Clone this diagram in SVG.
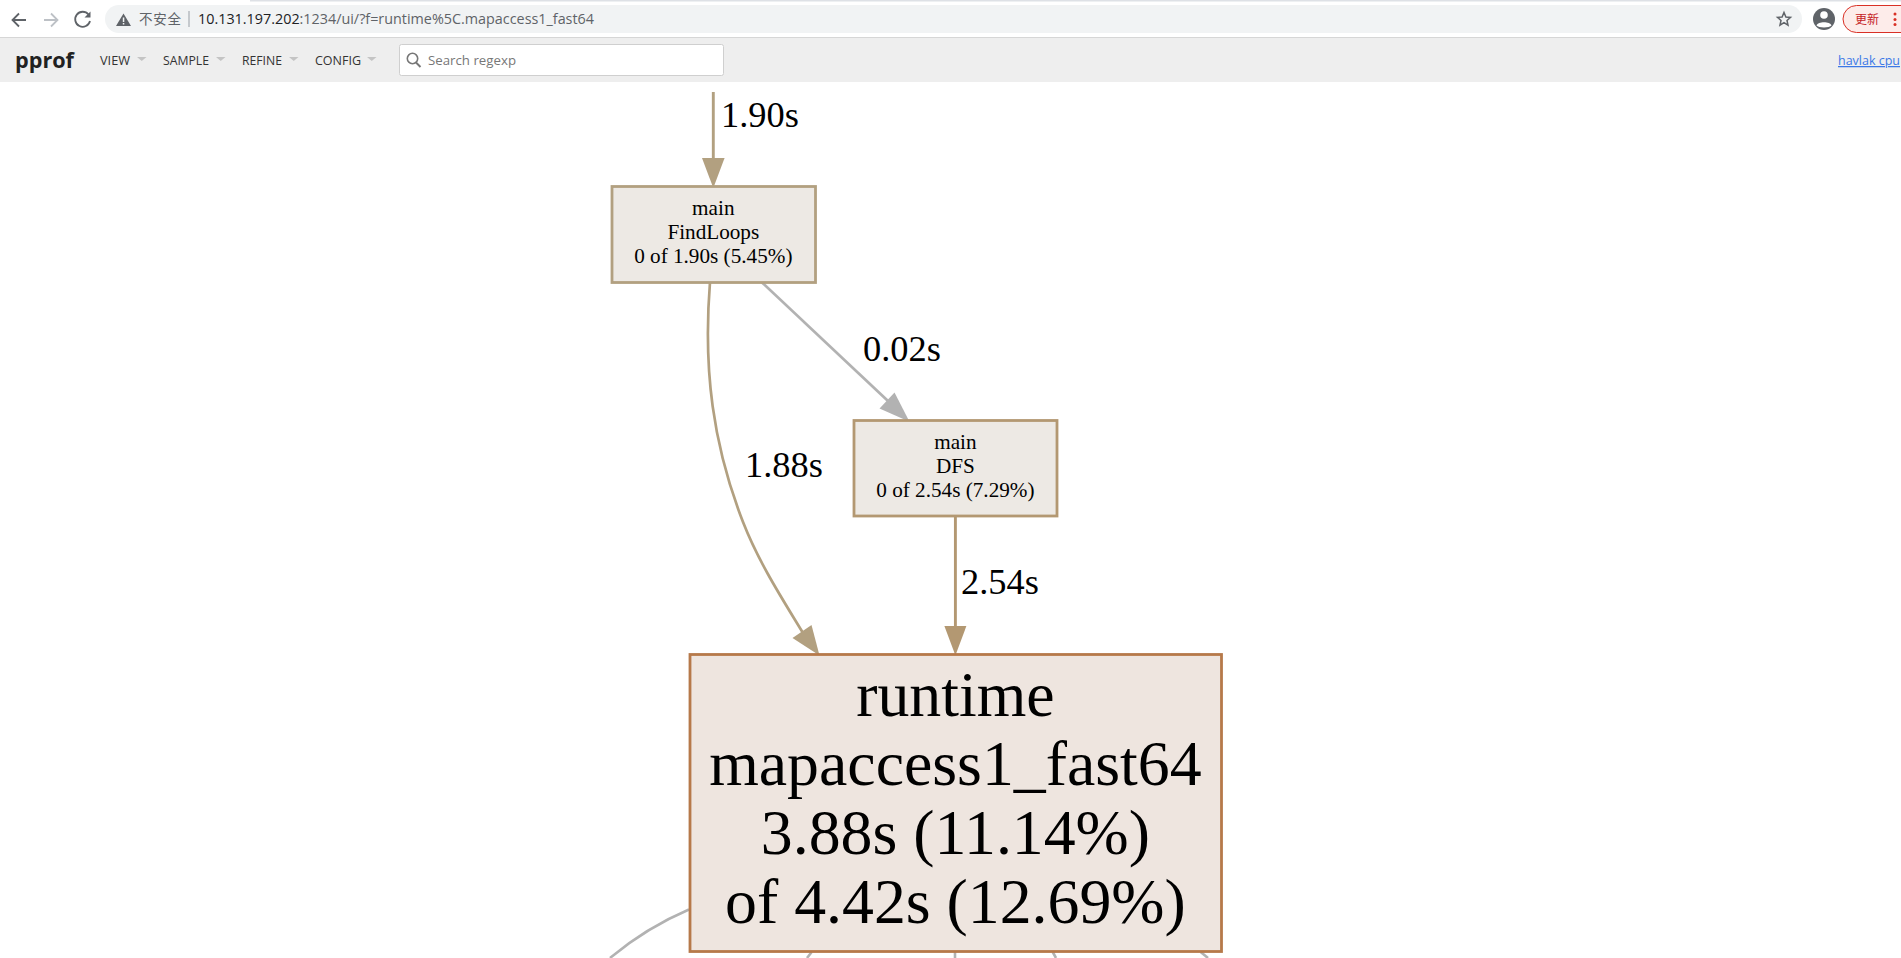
<svg xmlns="http://www.w3.org/2000/svg" width="1901" height="958" viewBox="0 0 1901 958">
<style>
.ui{font-family:"Open Sans","Noto Sans","Noto Sans CJK SC",sans-serif}
.menu{font-size:12px;fill:#333}
.tri{fill:#c4c4c4}
.n{font-family:"Liberation Serif",serif;font-size:21.2px;text-anchor:middle;fill:#000}
.b{font-family:"Liberation Serif",serif;font-size:63.8px;text-anchor:middle;fill:#000}
.e{font-family:"Liberation Serif",serif;font-size:36.4px;fill:#000}
.box{stroke-width:2.8}
.edge{fill:none}
</style>
<rect width="1901" height="958" fill="#fff"/>
<g id="browser-bar">
<rect x="250" y="0" width="1651" height="1.5" fill="#dee1e6"/>
<rect x="105" y="5" width="1697" height="28" rx="14" fill="#f1f3f4"/>
<rect x="0" y="37" width="1901" height="1" fill="#d6d6d6"/>
<path d="M26 20H13M19 13.5L12.5 20L19 26.500" fill="none" stroke="#5f6368" stroke-width="1.800"/>
<path d="M44 20H57M51 13.500L57.500 20L51 26.500" fill="none" stroke="#bdc1c6" stroke-width="1.800"/>
<path d="M88.500 14.500A7.500 7.500 0 1 0 90 21" fill="none" stroke="#5f6368" stroke-width="1.800"/>
<path d="M90.500 11.500V17.500H84.500Z" fill="#5f6368"/>
<path d="M123.500 13.500L131 26H116Z" fill="#5f6368"/>
<rect x="122.800" y="17.500" width="1.500" height="4.500" fill="#f1f3f4"/>
<rect x="122.800" y="23" width="1.500" height="1.500" fill="#f1f3f4"/>
<text class="ui" x="139" y="24" font-size="13.500" fill="#5f6368" textLength="42">不安全</text>
<rect x="188.500" y="11" width="1" height="16" fill="#9aa0a6"/>
<text class="ui" x="198" y="24" font-size="14" fill="#5f6368" textLength="396" lengthAdjust="spacingAndGlyphs"><tspan fill="#202124">10.131.197.202</tspan>:1234/ui/?f=runtime%5C.mapaccess1_fast64</text>
<path d="M1784 12.500L1785.900 17L1790.500 17.400L1787 20.500L1788 25.200L1784 22.700L1780 25.200L1781 20.500L1777.500 17.400L1782.100 17Z" fill="none" stroke="#5f6368" stroke-width="1.500"/>
<circle cx="1824" cy="19" r="11" fill="#5f6368"/>
<circle cx="1824" cy="15" r="3.800" fill="#fff"/>
<path d="M1816.500 25.500C1818 21.300 1830 21.300 1831.500 25.500C1829.500 28 1818.500 28 1816.500 25.500Z" fill="#fff"/>
<rect x="1843" y="5.500" width="80" height="27" rx="13.500" fill="#fdecea" stroke="#d93025" stroke-width="1"/>
<text class="ui" x="1855" y="24" font-size="12px" fill="#c5221f" textLength="24">更新</text>
<circle cx="1895" cy="14" r="1.500" fill="#d93025"/>
<circle cx="1895" cy="19.500" r="1.500" fill="#d93025"/>
<circle cx="1895" cy="24.500" r="1.500" fill="#d93025"/>
</g>
<g id="pprof-header">
<rect x="0" y="38" width="1901" height="44" fill="#eeeeee"/>
<text class="ui" x="15" y="68" font-size="21px" font-weight="700" fill="#212121" textLength="59" lengthAdjust="spacingAndGlyphs">pprof</text>
<text class="ui menu" x="100" y="65" textLength="30" lengthAdjust="spacingAndGlyphs">VIEW</text>
<path class="tri" d="M137 57h9.500l-4.750 4z"/>
<text class="ui menu" x="163" y="65" textLength="46" lengthAdjust="spacingAndGlyphs">SAMPLE</text>
<path class="tri" d="M216 57h9.500l-4.750 4z"/>
<text class="ui menu" x="242" y="65" textLength="40" lengthAdjust="spacingAndGlyphs">REFINE</text>
<path class="tri" d="M289 57h9.500l-4.750 4z"/>
<text class="ui menu" x="315" y="65" textLength="46" lengthAdjust="spacingAndGlyphs">CONFIG</text>
<path class="tri" d="M367 57h9.500l-4.750 4z"/>
<rect x="399.500" y="44.500" width="324" height="31" rx="2" fill="#fff" stroke="#cfcfcf"/>
<circle cx="412.500" cy="58.500" r="5.200" fill="none" stroke="#777" stroke-width="1.600"/>
<path d="M416 62.500L420.500 67" stroke="#777" stroke-width="1.900"/>
<text class="ui" x="428" y="64.500" font-size="13px" fill="#777" textLength="88" lengthAdjust="spacingAndGlyphs">Search regexp</text>
<text class="ui" x="1838" y="65" font-size="12.500px" fill="#3b78e7" text-decoration="underline" textLength="62" lengthAdjust="spacingAndGlyphs">havlak cpu</text>
</g>
<g id="connectors">
<g id="edge-in-findloops">
<path class="edge" d="M713.300 92V160" stroke="#b2a080" stroke-width="2.900"/>
<path d="M702 158H724.600L713.300 188Z" fill="#b2a080"/>
<text class="e" x="721" y="126.500">1.90s</text>
</g>
<g id="edge-findloops-dfs">
<path class="edge" d="M761.500 282L888 401" stroke="#b2b2b2" stroke-width="2.700"/>
<path d="M894.500 392.500L879.500 408.500L909.500 421.700Z" fill="#b2b2b2"/>
<text class="e" x="863" y="361">0.02s</text>
</g>
<g id="edge-findloops-runtime">
<path class="edge" d="M710 282C703 370 713 445 743 522C759 563 783 600 803 633" stroke="#b2a080" stroke-width="2.700"/>
<path d="M811.500 625L792.500 638L819.500 655.500Z" fill="#b2a080"/>
<text class="e" x="745" y="477">1.88s</text>
</g>
<g id="edge-dfs-runtime">
<path class="edge" d="M955.400 516V628" stroke="#b39872" stroke-width="2.900"/>
<path d="M944.400 626H966.400L955.400 655.500Z" fill="#b39872"/>
<text class="e" x="961" y="594">2.54s</text>
</g>
<g id="edges-out-runtime" class="edge" stroke="#b2b2b2" stroke-width="2.600">
<path d="M689 909.500C662 921 634 938 610 958"/>
<path d="M811.700 952L807 958"/>
<path d="M955 952V958"/>
<path d="M1052.700 952L1056 958"/>
<path d="M1200.700 952L1208 958"/>
</g>
</g>
<g id="node-findloops">
<rect class="box" x="612" y="186.500" width="203.500" height="96" fill="#ede9e4" stroke="#b2a080"/>
<text class="n" x="713.300" y="215">main</text>
<text class="n" x="713.300" y="239">FindLoops</text>
<text class="n" x="713.300" y="263">0 of 1.90s (5.45%)</text>
</g>
<g id="node-dfs">
<rect class="box" x="854" y="420.500" width="203" height="95.500" fill="#ede9e4" stroke="#b39872"/>
<text class="n" x="955.400" y="449">main</text>
<text class="n" x="955.400" y="473">DFS</text>
<text class="n" x="955.400" y="497">0 of 2.54s (7.29%)</text>
</g>
<g id="node-runtime">
<rect class="box" x="690" y="654.500" width="531.500" height="297" fill="#eee5df" stroke="#b6794a"/>
<text class="b" x="955.400" y="716">runtime</text>
<text class="b" x="955.400" y="785">mapaccess1_fast64</text>
<text class="b" x="955.400" y="854">3.88s (11.14%)</text>
<text class="b" x="955.400" y="923">of 4.42s (12.69%)</text>
</g>
</svg>
